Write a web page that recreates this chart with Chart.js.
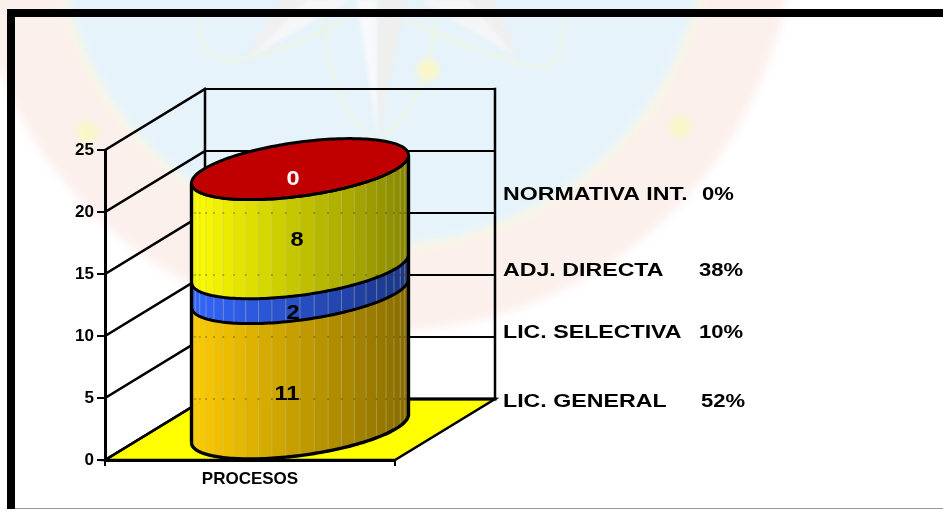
<!DOCTYPE html>
<html>
<head>
<meta charset="utf-8">
<title>PROCESOS</title>
<script src="https://cdn.jsdelivr.net/npm/chart.js@4"></script>
<style>
  html, body { margin: 0; padding: 0; background: #fff; overflow: hidden; }
  #wrap { position: relative; width: 943px; height: 509px; }
</style>
</head>
<body>
<div id="wrap"><canvas id="chart" width="943" height="509"></canvas></div>
<script>
const categories = ['PROCESOS'];
const seriesNames = ['LIC. GENERAL', 'LIC. SELECTIVA', 'ADJ. DIRECTA', 'NORMATIVA INT.'];
const seriesValues = [11, 2, 8, 0];
const seriesPercents = ['52%', '10%', '38%', '0%'];
const seriesColors = ['#FFCC00', '#3366FF', '#FFFF00', '#C00000'];
const yTicks = [0, 5, 10, 15, 20, 25];

// where the legend text sits, and the nudge of each value label
const legendNameX = 503;
const legendPercentX = [701, 699, 699, 702];
const legendY = [402, 333, 271, 195];
const valueNudges = [[37, 3], [43, 2], [47, -9], [43, -20]];
const valueColors = ['#000', '#000', '#000', '#fff'];

const depthX = 100;
const depthY = 61;
const facets = 24;
const sansFamily = '"Liberation Sans", Arial, sans-serif';

function shade(hex, f) {
  const n = parseInt(hex.slice(1), 16);
  const k = 1 - 0.47 * f;
  return 'rgb(' + [(n >> 16) & 255, (n >> 8) & 255, n & 255].map(c => Math.round(c * k)).join(',') + ')';
}

// the original text is stretched sideways
function wideText(ctx, text, x, y, stretch) {
  ctx.save();
  ctx.translate(x, y);
  ctx.scale(stretch, 1);
  ctx.fillText(text, 0, 0);
  ctx.restore();
}

function curve(ctx, pts) {
  ctx.beginPath();
  ctx.moveTo(pts[0][0], pts[0][1]);
  for (let i = 1; i < pts.length; i++) {
    const p = pts[i];
    ctx.quadraticCurveTo(p[0], p[1], p[2], p[3]);
  }
  ctx.stroke();
}

function poly(ctx, pts, color) {
  ctx.fillStyle = color;
  ctx.beginPath();
  pts.forEach((p, i) => { if (i === 0) ctx.moveTo(p[0], p[1]); else ctx.lineTo(p[0], p[1]); });
  ctx.closePath();
  ctx.fill();
}

// faded seal behind the chart
function drawWatermark(ctx) {
  ctx.save();
  ctx.fillStyle = '#fff';
  ctx.fillRect(0, 0, 943, 509);
  ctx.filter = 'blur(4px)';
  ctx.beginPath();
  ctx.arc(382, -80, 412, 0, Math.PI * 2);
  ctx.fillStyle = '#fcf0ed';
  ctx.fill();
  ctx.beginPath();
  ctx.arc(382, -80, 331, 0, Math.PI * 2);
  ctx.fillStyle = '#faf7e2';
  ctx.fill();
  ctx.beginPath();
  ctx.arc(382, -80, 325, 0, Math.PI * 2);
  ctx.fillStyle = '#e6f3fb';
  ctx.fill();

  ctx.filter = 'blur(2px)';
  // star
  poly(ctx, [[357, 0], [378, 0], [378, 140]], '#f8f9fb');
  poly(ctx, [[378, 0], [405, 0], [378, 140]], '#efefee');
  poly(ctx, [[305, 0], [350, 0], [243, 62]], '#f6f6f7');
  poly(ctx, [[243, 62], [305, 0], [280, 0]], '#f0efee');
  poly(ctx, [[420, 0], [470, 0], [518, 58]], '#f5f5f6');
  poly(ctx, [[470, 0], [495, 0], [518, 58]], '#f0efee');

  // orbits
  ctx.strokeStyle = '#f1f6d6';
  ctx.lineWidth = 2;
  ctx.lineCap = 'round';
  curve(ctx, [[200, 20], [195, 60, 240, 60], [290, 50, 345, 20]]);
  curve(ctx, [[405, 20], [470, 50, 530, 66], [565, 75, 563, 20]]);
  curve(ctx, [[323, 18], [330, 110, 378, 140], [425, 110, 437, 18]]);

  // small dots on the seal
  ctx.filter = 'blur(3px)';
  ctx.fillStyle = '#f9f7c8';
  [[87, 132], [428, 70], [680, 127]].forEach(d => {
    ctx.beginPath();
    ctx.arc(d[0], d[1], 11, 0, Math.PI * 2);
    ctx.fill();
  });
  ctx.restore();
}

function drawFrame(ctx) {
  ctx.save();
  ctx.fillStyle = '#000';
  ctx.fillRect(7, 9, 936, 8);
  ctx.fillRect(7, 9, 8, 500);
  ctx.fillStyle = '#999';
  ctx.fillRect(15, 508, 928, 1);
  ctx.restore();
}

function drawWalls(chart) {
  const ctx = chart.ctx;
  const x = chart.scales.x;
  const y = chart.scales.y;
  const y0 = y.getPixelForValue(0);
  const yTop = y.getPixelForValue(yTicks[yTicks.length - 1]);
  ctx.save();
  ctx.lineCap = 'square';

  // floor
  ctx.beginPath();
  ctx.moveTo(x.left, y0);
  ctx.lineTo(x.right, y0);
  ctx.lineTo(x.right + depthX, y0 - depthY);
  ctx.lineTo(x.left + depthX, y0 - depthY);
  ctx.closePath();
  ctx.fillStyle = '#FFFF00';
  ctx.fill();
  ctx.strokeStyle = '#000';
  ctx.lineWidth = 2.5;
  ctx.stroke();

  // side wall and back wall lines
  yTicks.forEach(v => {
    const py = y.getPixelForValue(v);
    ctx.lineWidth = 2.4;
    ctx.beginPath();
    ctx.moveTo(x.left, py);
    ctx.lineTo(x.left + depthX, py - depthY);
    ctx.stroke();
    ctx.lineWidth = v === 0 ? 3 : 2;
    ctx.beginPath();
    ctx.moveTo(x.left + depthX, py - depthY);
    ctx.lineTo(x.right + depthX, py - depthY);
    ctx.stroke();
  });
  ctx.lineWidth = 2.5;
  ctx.beginPath();
  ctx.moveTo(x.left + depthX, yTop - depthY);
  ctx.lineTo(x.left + depthX, y0 - depthY);
  ctx.moveTo(x.right + depthX, yTop - depthY);
  ctx.lineTo(x.right + depthX, y0 - depthY);
  ctx.stroke();
  ctx.restore();
}

function drawCylinder(chart) {
  const ctx = chart.ctx;
  const metas = seriesValues.map((v, i) => chart.getDatasetMeta(i).data[0]);
  const halfDepthX = depthX / 2;
  const halfDepthY = depthY / 2;
  const a = metas[0].width / 2;
  const r = Math.hypot(a, halfDepthX);
  const cx = metas[0].x + halfDepthX;
  const t0 = Math.atan2(-halfDepthX, -a);

  // ring point for a value level, t is the angle round the cylinder
  const pt = (py, t) => [
    cx + Math.cos(t) * a + Math.sin(t) * halfDepthX,
    py - halfDepthY - Math.sin(t) * halfDepthY
  ];
  const frontT = i => t0 + Math.PI * i / facets;

  ctx.save();
  ctx.lineJoin = 'round';

  seriesValues.forEach((v, s) => {
    if (v === 0) return;
    const top = metas[s].y;
    const bottom = metas[s].base;
    for (let i = 0; i < facets; i++) {
      const steps = 6;
      ctx.beginPath();
      for (let k = 0; k <= steps; k++) {
        const p = pt(bottom, frontT(i + k / steps));
        if (k === 0) ctx.moveTo(p[0], p[1]); else ctx.lineTo(p[0], p[1]);
      }
      for (let k = steps; k >= 0; k--) {
        const p = pt(top, frontT(i + k / steps));
        ctx.lineTo(p[0], p[1]);
      }
      ctx.closePath();
      const mid = pt(top, frontT(i + 0.5));
      const col = shade(seriesColors[s], (mid[0] - (cx - r)) / (2 * r));
      ctx.fillStyle = col;
      ctx.strokeStyle = col;
      ctx.lineWidth = 0.6;
      ctx.fill();
      ctx.stroke();
    }
    // pale facet lines
    ctx.strokeStyle = 'rgba(200,200,150,0.4)';
    ctx.lineWidth = 1;
    for (let i = 1; i < facets; i++) {
      const a1 = pt(bottom, frontT(i));
      const b1 = pt(top, frontT(i));
      ctx.beginPath();
      ctx.moveTo(a1[0], a1[1]);
      ctx.lineTo(b1[0], b1[1]);
      ctx.stroke();
    }
  });

  // back wall grid shows through where it meets the facets
  const yScale = chart.scales.y;
  const totalTop = metas[metas.length - 1].y;
  ctx.fillStyle = 'rgba(60,60,0,0.3)';
  yTicks.forEach(v => {
    const gy = yScale.getPixelForValue(v) - depthY;
    for (let i = 1; i < facets; i++) {
      const p = pt(yScale.getPixelForValue(0), frontT(i));
      const q = pt(totalTop, frontT(i));
      if (gy < p[1] && gy > q[1]) ctx.fillRect(p[0] - 1, gy - 1, 2, 2);
    }
  });

  // outlines
  ctx.strokeStyle = '#000';
  ctx.lineWidth = 3.4;
  const bottomLevel = metas[0].base;
  ctx.beginPath();
  for (let i = 0; i <= facets * 4; i++) {
    const p = pt(bottomLevel, frontT(i / 4));
    if (i === 0) ctx.moveTo(p[0], p[1]); else ctx.lineTo(p[0], p[1]);
  }
  const end = pt(totalTop, frontT(facets));
  ctx.lineTo(end[0], end[1]);
  const start = pt(totalTop, frontT(0));
  const first = pt(bottomLevel, frontT(0));
  ctx.moveTo(start[0], start[1]);
  ctx.lineTo(first[0], first[1]);
  ctx.stroke();

  ctx.lineWidth = 3;
  seriesValues.forEach((v, s) => {
    if (s === seriesValues.length - 1) return;
    ctx.beginPath();
    for (let i = 0; i <= facets * 4; i++) {
      const p = pt(metas[s].y, frontT(i / 4));
      if (i === 0) ctx.moveTo(p[0], p[1]); else ctx.lineTo(p[0], p[1]);
    }
    ctx.stroke();
  });

  // top cap
  ctx.beginPath();
  for (let i = 0; i <= facets * 8; i++) {
    const p = pt(totalTop, frontT(i / 4));
    if (i === 0) ctx.moveTo(p[0], p[1]); else ctx.lineTo(p[0], p[1]);
  }
  ctx.closePath();
  ctx.fillStyle = seriesColors[seriesColors.length - 1];
  ctx.fill();
  ctx.stroke();

  // value labels
  ctx.font = 'bold 20px ' + sansFamily;
  ctx.textAlign = 'center';
  ctx.textBaseline = 'middle';
  seriesValues.forEach((v, s) => {
    ctx.fillStyle = valueColors[s];
    wideText(ctx, String(v), metas[s].x + valueNudges[s][0], (metas[s].y + metas[s].base) / 2 + valueNudges[s][1], 1.18);
  });
  ctx.restore();
}

function drawLegend(ctx) {
  ctx.save();
  ctx.fillStyle = '#000';
  ctx.font = 'bold 19px ' + sansFamily;
  ctx.textAlign = 'left';
  ctx.textBaseline = 'middle';
  seriesNames.forEach((name, i) => {
    wideText(ctx, name, legendNameX, legendY[i], 1.22);
    wideText(ctx, seriesPercents[i], legendPercentX[i], legendY[i], 1.16);
  });
  ctx.restore();
}

const cylinderPlugin = {
  id: 'cylinder',
  beforeDraw(chart) {
    drawWatermark(chart.ctx);
    drawFrame(chart.ctx);
    drawWalls(chart);
  },
  afterDatasetsDraw(chart) {
    drawCylinder(chart);
    drawLegend(chart.ctx);
  }
};

const datasets = seriesNames.map((name, i) => ({
  label: name,
  data: [seriesValues[i]],
  backgroundColor: 'transparent',
  borderWidth: 0
}));

new Chart(document.getElementById('chart'), {
  type: 'bar',
  data: { labels: categories, datasets: datasets },
  plugins: [cylinderPlugin],
  options: {
    responsive: false,
    animation: false,
    barPercentage: 0.664,
    categoryPercentage: 1,
    layout: { padding: { left: 0, right: 548, top: 150, bottom: 0 } },
    plugins: { legend: { display: false }, tooltip: { enabled: false } },
    scales: {
      x: {
        stacked: true,
        afterFit(scale) { scale.height = 49; },
        border: { color: '#000', width: 3 },
        grid: { drawOnChartArea: false, color: '#000', lineWidth: 2, tickLength: 6 },
        ticks: { color: '#000', padding: 3, maxRotation: 0, font: { family: sansFamily, size: 17, weight: 'bold' } }
      },
      y: {
        stacked: true,
        min: 0,
        max: 25,
        afterFit(scale) { scale.width = 105; },
        afterBuildTicks(scale) { scale.ticks = yTicks.map(v => ({ value: v })); },
        border: { color: '#000', width: 3 },
        grid: { drawOnChartArea: false, color: '#000', lineWidth: 2, tickLength: 8 },
        ticks: { color: '#000', padding: 3, font: { family: sansFamily, size: 17, weight: 'bold' } }
      }
    }
  }
});
</script>
</body>
</html>
